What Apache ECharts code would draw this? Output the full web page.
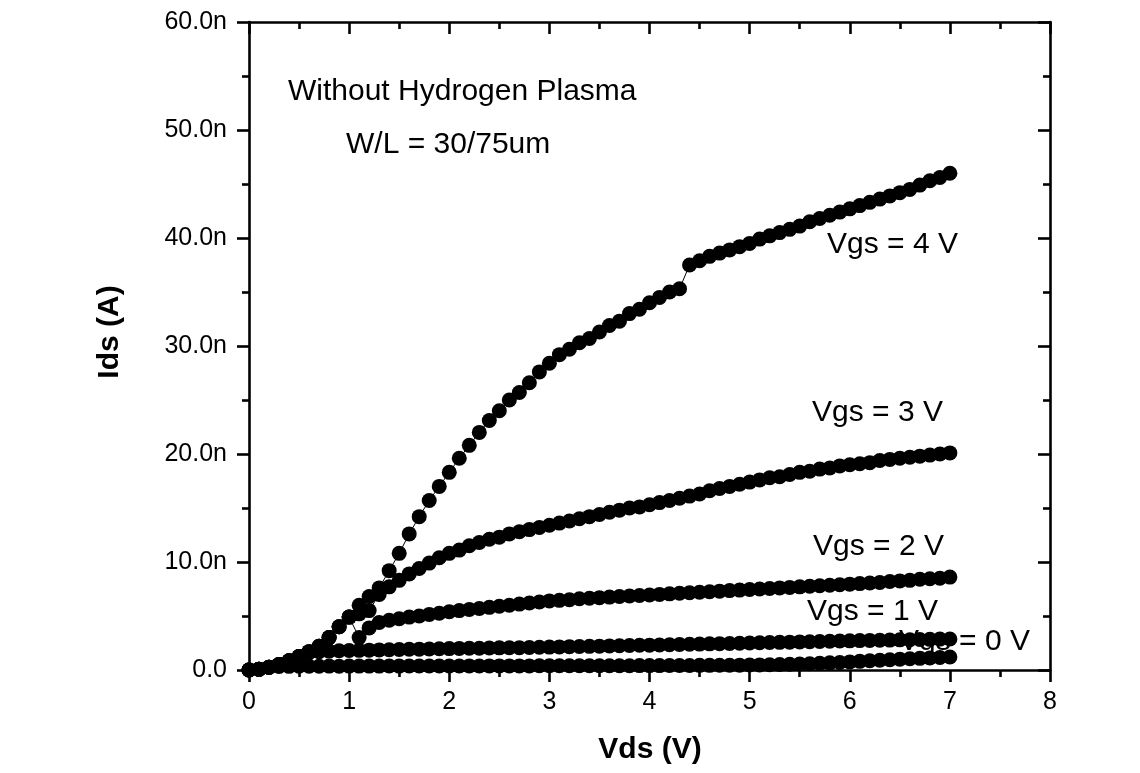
<!DOCTYPE html>
<html>
<head>
<meta charset="utf-8">
<script src="https://cdn.jsdelivr.net/npm/echarts@6/dist/echarts.min.js"></script>
<style>
html,body{margin:0;padding:0;background:#fff;}
#chart{width:1140px;height:773px;}
</style>
</head>
<body>
<div id="chart"></div>
<script>
// Drain voltage (V)
const vds = [
  0.0,0.1,0.2,0.3,0.4,0.5,0.6,0.7,0.8,0.9,
  1.0,1.1,1.2,1.3,1.4,1.5,1.6,1.7,1.8,1.9,
  2.0,2.1,2.2,2.3,2.4,2.5,2.6,2.7,2.8,2.9,
  3.0,3.1,3.2,3.3,3.4,3.5,3.6,3.7,3.8,3.9,
  4.0,4.1,4.2,4.3,4.4,4.5,4.6,4.7,4.8,4.9,
  5.0,5.1,5.2,5.3,5.4,5.5,5.6,5.7,5.8,5.9,
  6.0,6.1,6.2,6.3,6.4,6.5,6.6,6.7,6.8,6.9,
  7.0
];
// Drain current (nA) for each gate voltage
const ids_vgs0 = [
  0,0.08,0.25,0.32,0.34,0.35,0.35,0.35,0.36,0.35,
  0.36,0.36,0.36,0.36,0.37,0.36,0.37,0.37,0.37,0.37,
  0.37,0.37,0.38,0.37,0.38,0.38,0.38,0.38,0.38,0.39,
  0.39,0.39,0.39,0.39,0.40,0.40,0.40,0.40,0.40,0.41,
  0.41,0.41,0.42,0.42,0.42,0.43,0.43,0.44,0.44,0.45,
  0.46,0.47,0.49,0.51,0.53,0.55,0.58,0.62,0.66,0.70,
  0.75,0.80,0.85,0.90,0.95,1.00,1.04,1.08,1.12,1.16,
  1.20
];
const ids_vgs1 = [
  0,0.08,0.25,0.5,0.85,1.25,1.6,1.7,1.75,1.78,
  1.8,1.82,1.84,1.86,1.88,1.9,1.92,1.93,1.95,1.97,
  1.98,2.0,2.01,2.02,2.04,2.05,2.06,2.07,2.08,2.1,
  2.12,2.14,2.16,2.18,2.19,2.21,2.23,2.25,2.27,2.29,
  2.3,2.32,2.34,2.36,2.38,2.4,2.42,2.44,2.46,2.48,
  2.5,2.52,2.54,2.56,2.58,2.6,2.62,2.64,2.66,2.68,
  2.7,2.72,2.74,2.76,2.77,2.79,2.8,2.82,2.84,2.86,
  2.87
];
const ids_vgs2 = [
  0,0.08,0.25,0.5,0.85,1.25,1.7,2.2,3.0,4.0,
  4.9,3.0,3.9,4.4,4.6,4.75,4.9,5.0,5.15,5.25,
  5.4,5.5,5.6,5.7,5.8,5.9,6.0,6.1,6.2,6.3,
  6.4,6.45,6.5,6.6,6.65,6.7,6.75,6.8,6.85,6.9,
  6.95,7.0,7.05,7.1,7.15,7.2,7.25,7.3,7.35,7.4,
  7.45,7.5,7.55,7.6,7.65,7.7,7.75,7.8,7.85,7.9,
  7.95,8.0,8.05,8.1,8.2,8.25,8.3,8.4,8.45,8.5,
  8.6
];
const ids_vgs3 = [
  0,0.08,0.25,0.5,0.85,1.25,1.7,2.2,3.0,4.0,
  4.9,5.2,5.5,7.0,7.7,8.3,8.9,9.4,9.9,10.4,
  10.8,11.1,11.5,11.8,12.1,12.3,12.6,12.8,13.0,13.2,
  13.4,13.6,13.8,14.0,14.2,14.4,14.6,14.8,15.0,15.1,
  15.3,15.5,15.7,15.9,16.1,16.3,16.6,16.8,17.0,17.2,
  17.4,17.6,17.8,17.9,18.1,18.3,18.4,18.6,18.7,18.9,
  19.0,19.1,19.2,19.4,19.5,19.6,19.7,19.8,19.9,20.0,
  20.1
];
const ids_vgs4 = [
  0,0.08,0.25,0.5,0.85,1.25,1.7,2.2,3.0,4.0,
  4.9,6.0,6.8,7.6,9.2,10.8,12.6,14.2,15.7,17.0,
  18.3,19.6,20.8,22.0,23.1,24.0,25.0,25.7,26.6,27.6,
  28.4,29.2,29.7,30.3,30.7,31.3,31.9,32.3,33.0,33.4,
  34.0,34.5,35.0,35.3,37.5,37.9,38.3,38.6,38.9,39.2,
  39.5,39.9,40.2,40.5,40.8,41.1,41.5,41.8,42.1,42.4,
  42.7,43.0,43.3,43.6,43.9,44.2,44.5,44.9,45.3,45.6,
  46.0
];
const seriesNames = ['Vgs = 0 V','Vgs = 1 V','Vgs = 2 V','Vgs = 3 V','Vgs = 4 V'];
const xTicks = [0,1,2,3,4,5,6,7,8];
const yTicks = [0,10,20,30,40,50,60];

const FONT = "'Liberation Sans', Arial, sans-serif";
const allIds = [ids_vgs0, ids_vgs1, ids_vgs2, ids_vgs3, ids_vgs4];

function pairs(ys){ return vds.map((x,i)=>[x, ys[i]]); }

const axisLine = {show:true, onZero:false, lineStyle:{color:'#000', width:2.6}};
const chart = echarts.init(document.getElementById('chart'), null, {renderer:'canvas'});

const series = allIds.map((ys, k) => ({
  name: seriesNames[k],
  type: 'line',
  data: pairs(ys),
  symbol: 'circle',
  symbolSize: 15,
  showAllSymbol: true,
  itemStyle: {color:'#000'},
  lineStyle: {color:'#000', width: 1},
  z: 3,
  animation: false
}));

chart.setOption({
  backgroundColor: '#fff',
  animation: false,
  grid: {left: 249, right: 90, top: 22, bottom: 103, containLabel: false},
  xAxis: [{
    type:'value', min: xTicks[0], max: xTicks[xTicks.length-1], interval: 1, position:'bottom',
    axisLine: axisLine,
    axisTick: {show:true, inside:false, length:12, lineStyle:{color:'#000', width:2.6}},
    minorTick: {show:true, splitNumber:2, length:7, lineStyle:{color:'#000', width:2.6}},
    axisLabel: {color:'#000', fontSize:25, fontFamily:FONT, margin:20},
    splitLine: {show:false}
  },{
    type:'value', min: xTicks[0], max: xTicks[xTicks.length-1], interval: 1, position:'top',
    axisLine: axisLine,
    axisTick: {show:true, inside:true, length:12, lineStyle:{color:'#000', width:2.6}},
    minorTick: {show:true, splitNumber:2, length:7, lineStyle:{color:'#000', width:2.6}},
    axisLabel: {show:false},
    splitLine: {show:false}
  }],
  yAxis: [{
    type:'value', min: yTicks[0], max: yTicks[yTicks.length-1], interval: 10, position:'left',
    axisLine: axisLine,
    axisTick: {show:true, inside:false, length:12, lineStyle:{color:'#000', width:2.6}},
    minorTick: {show:true, splitNumber:2, length:7, lineStyle:{color:'#000', width:2.6}},
    axisLabel: {color:'#000', fontSize:25, fontFamily:FONT, margin:22,
      formatter: v => v === 0 ? '0.0' : v.toFixed(1) + 'n'},
    splitLine: {show:false}
  },{
    type:'value', min: yTicks[0], max: yTicks[yTicks.length-1], interval: 10, position:'right',
    axisLine: axisLine,
    axisTick: {show:true, inside:true, length:12, lineStyle:{color:'#000', width:2.6}},
    minorTick: {show:true, splitNumber:2, length:7, lineStyle:{color:'#000', width:2.6}},
    axisLabel: {show:false},
    splitLine: {show:false}
  }],
  series: series,
  graphic: [
    {type:'text', x:288, y:92, z:5, style:{text:'Without Hydrogen Plasma', font:'30px '+FONT, fill:'#000', textVerticalAlign:'middle'}},
    {type:'text', x:346, y:145, z:5, style:{text:'W/L = 30/75um', font:'30px '+FONT, fill:'#000', textVerticalAlign:'middle'}},
    {type:'text', x:827, y:245, z:5, style:{text:seriesNames[4], font:'30px '+FONT, fill:'#000', textVerticalAlign:'middle'}},
    {type:'text', x:812, y:413, z:5, style:{text:seriesNames[3], font:'30px '+FONT, fill:'#000', textVerticalAlign:'middle'}},
    {type:'text', x:813, y:547, z:5, style:{text:seriesNames[2], font:'30px '+FONT, fill:'#000', textVerticalAlign:'middle'}},
    {type:'text', x:807, y:612, z:5, style:{text:seriesNames[1], font:'30px '+FONT, fill:'#000', textVerticalAlign:'middle'}},
    {type:'text', x:899, y:642, z:-10, zlevel:0, style:{text:seriesNames[0], font:'30px '+FONT, fill:'#000', textVerticalAlign:'middle'}},
    {type:'text', x:650, y:750, z:5, style:{text:'Vds (V)', font:'bold 30px '+FONT, fill:'#000', textAlign:'center', textVerticalAlign:'middle'}},
    {type:'text', x:110, y:332, rotation:Math.PI/2, z:5, style:{text:'Ids (A)', font:'bold 30px '+FONT, fill:'#000', textAlign:'center', textVerticalAlign:'middle'}}
  ]
});
</script>
</body>
</html>
